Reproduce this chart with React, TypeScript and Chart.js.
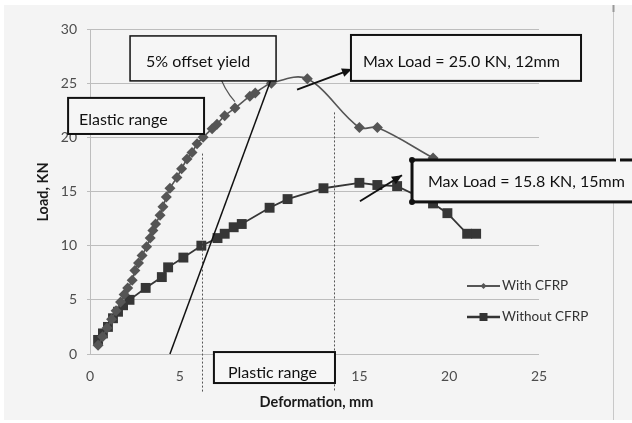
import { useEffect, useRef } from "react";
import { Chart, registerables } from "chart.js";

Chart.register(...registerables);

// ---- Data ----
const withCfrpX = [0.45, 0.7, 0.95, 1.2, 1.45, 1.7, 1.9, 2.1, 2.35, 2.5, 2.7, 2.9, 3.15, 3.35, 3.5, 3.65, 3.9, 4.06, 4.25, 4.45, 4.84, 5.1, 5.4, 5.68, 5.96, 6.3, 6.8, 7.07, 7.5, 8.07, 8.9, 9.2, 10.1, 12.1, 15.0, 16.0, 19.1];
const withCfrpY = [0.8, 1.6, 2.4, 3.2, 4.0, 4.8, 5.5, 6.1, 6.8, 7.7, 8.4, 9.1, 9.9, 10.7, 11.4, 12.0, 12.8, 13.6, 14.5, 15.3, 16.3, 17.1, 18.0, 18.6, 19.4, 20.0, 20.8, 21.2, 22.0, 22.7, 23.8, 24.1, 25.0, 25.4, 20.9, 20.9, 18.1];
const withoutCfrpX = [0.45, 0.72, 1.0, 1.28, 1.56, 1.84, 2.2, 3.1, 4.0, 4.35, 5.2, 6.2, 7.1, 7.5, 8.0, 8.45, 10.0, 11.0, 13.0, 15.0, 16.0, 17.1, 19.1, 19.9, 21.0, 21.5];
const withoutCfrpY = [1.3, 1.9, 2.5, 3.3, 3.9, 4.5, 5.0, 6.1, 7.1, 8.0, 8.9, 10.0, 10.7, 11.1, 11.7, 12.0, 13.5, 14.3, 15.3, 15.8, 15.6, 15.5, 13.9, 13.0, 11.1, 11.1];
const seriesNames = ["With CFRP", "Without CFRP"];
const xTicks = [0, 5, 10, 15, 20, 25];
const yTicks = [0, 5, 10, 15, 20, 25, 30];
const xTitle = "Deformation, mm";
const yTitle = "Load, KN";

// annotation boxes: [x0, y0, x1, y1] in data units, text, text anchor [x, y]
const boxTexts = ["5% offset yield", "Elastic range", "Max Load = 25.0 KN, 12mm", "Max Load = 15.8 KN, 15mm", "Plastic range"];
const boxRects = [
  [2.23, 29.36, 10.36, 25.21],
  [-1.22, 23.64, 6.35, 20.31],
  [14.53, 29.45, 27.34, 25.21],
  [17.93, 17.91, 31.2, 14.04],
  [6.9, 0.18, 13.64, -2.68],
];
const boxTextAt = [
  [3.12, 26.96],
  [-0.61, 21.6],
  [15.2, 26.96],
  [18.82, 15.88],
  [7.68, -1.75],
];
const boxLineW = [1.5, 2, 2, 3, 2];
// offset yield line
const offsetLine = [4.45, 0, 10.05, 25.2];
// dotted vertical lines: [x, yTop, yBottom]
const dottedLines = [
  [6.26, 18.5, -3.5],
  [13.59, 22.3, -3.5],
];
// arrows [x1, y1, x2, y2]
const arrows = [
  [11.53, 24.4, 14.59, 26.3],
  [15.03, 14.1, 17.37, 16.5],
];
const curvedArrow = [8.07, 23.3, 7.46, 24.4, 7.13, 26.1];

const FONT = "Lato, 'Open Sans', sans-serif";

function arrowHead(ctx: CanvasRenderingContext2D, x1: number, y1: number, x2: number, y2: number, len: number, wid: number) {
  const a = Math.atan2(y2 - y1, x2 - x1);
  ctx.beginPath();
  ctx.moveTo(x2, y2);
  ctx.lineTo(x2 - len * Math.cos(a) + wid * Math.sin(a), y2 - len * Math.sin(a) - wid * Math.cos(a));
  ctx.lineTo(x2 - len * Math.cos(a) - wid * Math.sin(a), y2 - len * Math.sin(a) + wid * Math.cos(a));
  ctx.closePath();
  ctx.fill();
}

const decorPlugin = {
  id: "decor",
  beforeDraw(chart: any) {
    const ctx = chart.ctx as CanvasRenderingContext2D;
    ctx.save();
    ctx.fillStyle = "#ffffff";
    ctx.fillRect(0, 0, chart.width, chart.height);
    ctx.fillStyle = "#f4f4f4";
    ctx.fillRect(4, 5, chart.width - 4, 415);
    ctx.strokeStyle = "#c8c8c8";
    ctx.lineWidth = 1;
    ctx.beginPath();
    ctx.moveTo(613.5, 5);
    ctx.lineTo(613.5, 420);
    ctx.stroke();
    ctx.strokeStyle = "#999";
    ctx.lineWidth = 2;
    ctx.beginPath();
    ctx.moveTo(613.5, 5);
    ctx.lineTo(613.5, 12);
    ctx.stroke();
    ctx.restore();
  },
  afterDraw(chart: any) {
    const ctx = chart.ctx as CanvasRenderingContext2D;
    const sx = chart.scales.x;
    const sy = chart.scales.y;
    const X = (v: number) => sx.getPixelForValue(v);
    const Y = (v: number) => sy.getPixelForValue(v);
    ctx.save();

    // dotted lines
    ctx.strokeStyle = "#555";
    ctx.lineWidth = 1;
    ctx.setLineDash([2, 2]);
    dottedLines.forEach(([x, a, b]) => {
      ctx.beginPath();
      ctx.moveTo(Math.round(X(x)) + 0.5, Y(a));
      ctx.lineTo(Math.round(X(x)) + 0.5, Y(b));
      ctx.stroke();
    });
    ctx.setLineDash([]);

    // offset line
    ctx.strokeStyle = "#111";
    ctx.lineWidth = 1.5;
    ctx.beginPath();
    ctx.moveTo(X(offsetLine[0]), Y(offsetLine[1]));
    ctx.lineTo(X(offsetLine[2]), Y(offsetLine[3]));
    ctx.stroke();

    // arrows
    ctx.fillStyle = "#111";
    arrows.forEach(([a, b, c, d]) => {
      ctx.lineWidth = 2;
      ctx.beginPath();
      ctx.moveTo(X(a), Y(b));
      ctx.lineTo(X(c), Y(d));
      ctx.stroke();
      arrowHead(ctx, X(a), Y(b), X(c), Y(d), 10, 4.5);
    });

    // curved arrow
    ctx.strokeStyle = "#555";
    ctx.lineWidth = 1.2;
    const [p0x, p0y, cx, cy, p1x, p1y] = curvedArrow;
    ctx.beginPath();
    ctx.moveTo(X(p0x), Y(p0y));
    ctx.quadraticCurveTo(X(cx), Y(cy), X(p1x), Y(p1y));
    ctx.stroke();
    {
      const tx = X(p1x), ty = Y(p1y);
      const a = Math.atan2(ty - Y(cy), tx - X(cx));
      ctx.beginPath();
      ctx.moveTo(tx - 7 * Math.cos(a - 0.5), ty - 7 * Math.sin(a - 0.5));
      ctx.lineTo(tx, ty);
      ctx.lineTo(tx - 7 * Math.cos(a + 0.5), ty - 7 * Math.sin(a + 0.5));
      ctx.stroke();
    }

    // boxes
    ctx.font = `16px ${FONT}`;
    ctx.textBaseline = "middle";
    ctx.textAlign = "left";
    boxRects.forEach(([x0, y0, x1, y1], i) => {
      const L = X(x0), T = Y(y0), R = X(x1), B = Y(y1);
      ctx.fillStyle = "#f6f6f6";
      ctx.fillRect(L, T, R - L, B - T);
      ctx.strokeStyle = "#111";
      ctx.lineWidth = boxLineW[i];
      ctx.strokeRect(L, T, R - L, B - T);
      if (i === 3) {
        // gap in the top border where the picture edge crosses
        ctx.fillStyle = "#f4f4f4";
        ctx.fillRect(616, T - 3, 4, 6);
        ctx.fillStyle = "#111";
        [[L, T], [L, B]].forEach(([px, py]) => {
          ctx.beginPath();
          ctx.arc(px, py, 3, 0, Math.PI * 2);
          ctx.fill();
        });
      }
      ctx.fillStyle = "#111";
      ctx.fillText(boxTexts[i], X(boxTextAt[i][0]), Y(boxTextAt[i][1]));
    });

    // legend
    const lx = 467, lw = 33;
    const ly = [286, 317];
    ctx.font = `13.5px ${FONT}`;
    ctx.textBaseline = "middle";
    ly.forEach((y, i) => {
      ctx.strokeStyle = i === 0 ? "#555" : "#333";
      ctx.lineWidth = i === 0 ? 2 : 2.5;
      ctx.beginPath();
      ctx.moveTo(lx, y);
      ctx.lineTo(lx + lw, y);
      ctx.stroke();
      ctx.fillStyle = i === 0 ? "#555" : "#333";
      const c = lx + lw / 2;
      ctx.beginPath();
      if (i === 0) {
        ctx.moveTo(c, y - 3);
        ctx.lineTo(c + 3, y);
        ctx.lineTo(c, y + 3);
        ctx.lineTo(c - 3, y);
        ctx.closePath();
      } else {
        ctx.rect(c - 4, y - 4, 8, 8);
      }
      ctx.fill();
      ctx.fillStyle = "#333";
      ctx.fillText(seriesNames[i], lx + lw + 2, y);
    });

    // axis titles
    ctx.fillStyle = "#1a1a1a";
    ctx.font = `bold 14.5px ${FONT}`;
    ctx.textAlign = "center";
    ctx.fillText(xTitle, (chart.chartArea.left + chart.chartArea.right) / 2 + 2, 402);
    ctx.translate(43, 192);
    ctx.rotate(-Math.PI / 2);
    ctx.fillText(yTitle, 0, 0);
    ctx.restore();
  },
};

export default function App() {
  const ref = useRef<HTMLCanvasElement>(null);
  useEffect(() => {
    document.body.style.margin = "0";
    const chart = new Chart(ref.current!, {
      type: "line",
      data: {
        datasets: [
          {
            label: seriesNames[0],
            data: withCfrpX.map((x, i) => ({ x, y: withCfrpY[i] })),
            borderColor: "#555555",
            backgroundColor: "#555555",
            borderWidth: 1.6,
            pointStyle: "rectRot",
            pointRadius: 5.5,
            pointBorderWidth: 0,
            tension: 0.35,
          },
          {
            label: seriesNames[1],
            data: withoutCfrpX.map((x, i) => ({ x, y: withoutCfrpY[i] })),
            borderColor: "#363636",
            backgroundColor: "#363636",
            borderWidth: 1.8,
            pointStyle: "rect",
            pointRadius: 7,
            pointBorderWidth: 0,
            tension: 0,
          },
        ],
      },
      plugins: [decorPlugin],
      options: {
        responsive: false,
        animation: false,
        devicePixelRatio: 1,
        layout: { padding: { left: 0, right: 93, top: 29, bottom: 0 } },
        plugins: {
          legend: { display: false },
          tooltip: { enabled: false },
          title: { display: false },
        },
        scales: {
          x: {
            type: "linear",
            min: xTicks[0],
            max: xTicks[xTicks.length - 1],
            afterBuildTicks: (s: any) => {
              s.ticks = xTicks.map((v) => ({ value: v }));
            },
            afterFit: (s: any) => {
              s.height = 69;
            },
            grid: { display: false, drawTicks: false },
            border: { display: false },
            ticks: { color: "#4d4d4d", font: { family: FONT, size: 14 }, padding: 14 },
          },
          y: {
            type: "linear",
            min: yTicks[0],
            max: yTicks[yTicks.length - 1],
            afterBuildTicks: (s: any) => {
              s.ticks = yTicks.map((v) => ({ value: v }));
            },
            afterFit: (s: any) => {
              s.width = 90;
            },
            grid: { color: "#bdbdbd", lineWidth: 1, tickLength: 3, drawTicks: true },
            border: { display: true, color: "#bdbdbd", width: 1 },
            ticks: { color: "#4d4d4d", font: { family: FONT, size: 14 }, padding: 10 },
          },
        },
      },
    });
    return () => chart.destroy();
  }, []);
  return (
    <div style={{ position: "absolute", left: 0, top: 0 }}>
      <canvas ref={ref} width={632} height={423} style={{ display: "block", width: 632, height: 423 }} />
    </div>
  );
}
